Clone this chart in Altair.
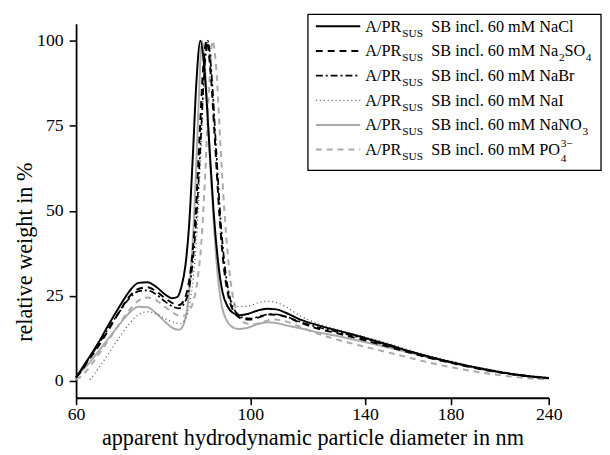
import altair as alt
import pandas as pd

FONT = "Liberation Serif"

# ---------------- data ----------------
x_nacl = [60, 61, 62, 64, 66, 68, 70, 72, 74, 76, 78, 79.5, 80.7, 81.7, 82.7, 83.6, 84.5, 85.4, 86.4, 87.4,
          88.5, 89.8, 91, 92.2, 93.5, 95, 97, 99.5, 102, 105, 108, 111, 115, 120, 130, 140, 150, 160, 170, 180,
          190, 200, 210, 220, 230, 240]
y_nacl = [1, 3.5, 6, 11, 16.5, 21.5, 26, 28.8, 29, 27.5, 25.3, 24.3, 24.6, 27.5, 34, 46, 66, 88, 100, 92,
          73, 50, 35, 26, 22, 20, 19.3, 19.7, 20.6, 21.2, 21, 20, 18.3, 16.8, 14.6, 12.6, 10.6, 8.6, 6.9, 5.5,
          4.3, 3.3, 2.4, 1.7, 1.2, 0.8]

x_na2so4 = [60, 61, 62, 64, 66, 68, 70, 72, 74, 76, 78, 80, 81.2, 82.3, 83.3, 84.3, 85.3, 86.2, 87.1, 88,
            89, 90.2, 91.4, 92.6, 94, 95.5, 97.5, 100, 103, 106, 109, 112, 115, 120, 130, 140, 150, 160, 170, 180,
            190, 200, 210, 220, 230, 240]
y_na2so4 = [1, 3, 5.5, 10, 15, 20, 24.5, 27, 27.5, 26.2, 24.2, 22.6, 22.3, 23.6, 27.5, 36, 51, 72, 92, 100,
            91, 70, 48, 33, 24, 20, 18.3, 18, 18.8, 19.5, 19.3, 18.5, 17.4, 15.8, 13.8, 11.9, 10, 8.2, 6.6, 5.3,
            4.1, 3.1, 2.3, 1.6, 1.1, 0.7]

x_nabr = [60, 61, 62, 64, 66, 68, 70, 72, 74, 76, 78, 80, 81.2, 82.3, 83.4, 84.4, 85.4, 86.4, 87.4, 88.3,
          89.3, 90.5, 91.7, 92.9, 94.2, 95.8, 97.8, 100, 103, 106, 109, 112, 115, 120, 130, 140, 150, 160, 170, 180,
          190, 200, 210, 220, 230, 240]
y_nabr = [1, 3.2, 5.8, 10.5, 15.5, 20, 24, 26.3, 26.6, 25.3, 23.2, 21.6, 21.3, 22.6, 26, 34, 48, 69, 91, 100,
          90, 68, 47, 33, 24.5, 20.3, 18.6, 18.3, 19, 19.6, 19.4, 18.6, 17.6, 16.2, 14.2, 12.3, 10.3, 8.5, 6.8, 5.5,
          4.3, 3.2, 2.4, 1.7, 1.1, 0.8]

x_nai = [62.5, 64, 66, 68, 70, 72, 74, 76, 78, 80, 81.5, 82.6, 83.6, 84.6, 85.6, 86.5, 87.3, 88.1, 89.1, 90.2,
         91.3, 92.4, 93.6, 95, 97, 99.5, 102, 105, 108, 111, 115, 120, 130, 140, 150, 160, 170, 180, 190, 200,
         210, 220, 230, 240]
y_nai = [0.3, 3.5, 8, 12.5, 16.5, 19.4, 20.3, 19.6, 18.2, 17.1, 16.8, 18, 22, 30, 45, 67, 89, 100, 91, 71,
         51, 36, 27, 23, 21.8, 22, 22.8, 23.4, 23, 21.8, 19.5, 17.4, 14.9, 12.9, 10.9, 8.9, 7.2, 5.8, 4.5, 3.5,
         2.6, 1.9, 1.4, 1.0]

x_nano3 = [60, 61, 62, 64, 66, 68, 70, 72, 74, 76, 78, 80, 81.2, 82.2, 83.1, 84, 85, 85.9, 86.8, 87.8,
           88.9, 90, 91, 92, 93.2, 94.6, 96.5, 99, 102, 105, 108, 111, 115, 120, 130, 140, 150, 160, 170, 180,
           190, 200, 210, 220, 230, 240]
y_nano3 = [1, 2.8, 4.6, 8.5, 12.5, 16.3, 19.8, 21.8, 21.6, 19.7, 17.2, 15.3, 15, 16.5, 21, 32, 53, 80, 100, 88,
           64, 44, 30, 22, 18, 16, 15.2, 15.5, 16.6, 17.2, 17, 16.3, 15.6, 14.6, 13, 11.4, 9.8, 8.2, 6.7, 5.3,
           4.1, 3.1, 2.3, 1.6, 1.1, 0.7]

x_po4 = [60, 61, 62, 64, 66, 68, 70, 72, 74, 76, 78, 80, 81.5, 82.6, 83.6, 84.6, 85.6, 86.6, 87.6, 88.6,
         89.5, 90.5, 91.6, 92.7, 93.8, 95, 96.5, 98.5, 101, 104, 107, 110, 114, 120, 130, 140, 150, 160, 170, 180,
         190, 200, 210, 220, 230, 240]
y_po4 = [0.3, 1.5, 3.2, 7.5, 12, 16.5, 20.5, 23.5, 24.5, 23.6, 21.6, 19.8, 19, 19.3, 20.6, 23.2, 29, 40, 60, 85,
         100, 92, 70, 50, 35, 25, 19.5, 17, 16.6, 17.4, 18, 17.7, 16.5, 14.4, 11.9, 10, 8.3, 6.7, 5.2, 4,
         3, 2.2, 1.5, 1, 0.6, 0.4]

x_ticks = [60, 100, 140, 180, 240]
y_ticks = [0, 25, 50, 75, 100]
x_title = "apparent hydrodynamic particle diameter in nm"
y_title = "relative weight in %"

# legend suffix pieces: (text, kind) with kind main/sub/sup
legend_suffix = [
    [("SB incl. 60 mM NaCl", "main")],
    [("SB incl. 60 mM Na", "main"), ("2", "sub"), ("SO", "main"), ("4", "sub")],
    [("SB incl. 60 mM NaBr", "main")],
    [("SB incl. 60 mM NaI", "main")],
    [("SB incl. 60 mM NaNO", "main"), ("3", "sub")],
    [("SB incl. 60 mM PO", "main"), ("4", "sub"), ("3\u2212", "sup")],
]

# styles: color, width, dash
styles = [
    ("black", 2.0, None),
    ("black", 2.0, [7, 5]),
    ("black", 1.7, [7, 3, 2, 3]),
    ("#555555", 1.3, [1, 3]),
    ("#aaaaaa", 2.0, None),
    ("#aaaaaa", 2.0, [6, 5]),
]
series = [(x_nacl, y_nacl), (x_na2so4, y_na2so4), (x_nabr, y_nabr),
          (x_nai, y_nai), (x_nano3, y_nano3), (x_po4, y_po4)]

# ---------------- scales / axes ----------------
xscale = alt.Scale(type="log", domain=[60, 240], nice=False)
yscale = alt.Scale(domain=[-5, 105], nice=False, zero=False)

xaxis = alt.Axis(values=x_ticks, format="d", title=x_title, grid=False, tickSize=7, tickWidth=1.6,
                 tickColor="black", domainColor="black", domainWidth=1.8, labelFont=FONT, labelFontSize=18,
                 labelColor="black", labelPadding=1, labelFlush=False, labelOverlap=False,
                 titleFont=FONT, titleFontSize=22.5, titleFontWeight="normal", titleColor="black",
                 titleY=47, titleBaseline="alphabetic")
yaxis = alt.Axis(values=y_ticks, title=y_title, grid=False, tickSize=7, tickWidth=1.6,
                 tickColor="black", domainColor="black", domainWidth=1.8, labelFont=FONT, labelFontSize=18,
                 labelColor="black", labelPadding=6, labelOverlap=False,
                 titleFont=FONT, titleFontSize=22.5, titleFontWeight="normal", titleColor="black",
                 titleX=-52, titleY=231, titleBaseline="middle")

layers = []
order = [5, 4, 3, 2, 1, 0]
for i in order:
    xs, ys = series[i]
    color, width, dash = styles[i]
    df = pd.DataFrame({"d": xs, "w": ys})
    kw = dict(color=color, strokeWidth=width, interpolate="monotone")
    if dash:
        kw["strokeDash"] = dash
    layers.append(alt.Chart(df).mark_line(**kw).encode(
        x=alt.X("d:Q", scale=xscale, axis=xaxis),
        y=alt.Y("w:Q", scale=yscale, axis=yaxis)))

# ---------------- custom legend ----------------
one = alt.Data(values=[{"k": 1}])
layers.append(alt.Chart(one).mark_rect(fill="white", stroke="black", strokeWidth=1.3).encode(
    x=alt.value(235), x2=alt.value(532), y=alt.value(-9.5), y2=alt.value(148.5)))

FS = 16.5
FS_SMALL = 11.5
# Times metrics (per 1000 em) for width estimation
W = {"S": 556, "B": 667, " ": 250, "i": 278, "n": 500, "c": 444, "l": 278, ".": 250, "6": 500, "0": 500,
     "m": 778, "M": 889, "N": 722, "a": 444, "C": 667, "O": 722, "P": 556, "r": 333, "I": 333, "2": 500,
     "3": 500, "4": 500, "\u2212": 564}


def tw(s, fs):
    return sum(W.get(ch, 500) for ch in s) * fs / 1000.0


def txt(text, x, y, fs):
    return alt.Chart(one).mark_text(text=text, align="left", baseline="alphabetic", font=FONT,
                                    fontSize=fs, color="black").encode(x=alt.value(x), y=alt.value(y))


for i in range(6):
    ly = 2.5 + 25 * i
    color, width, dash = styles[i]
    kw = dict(color=color, strokeWidth=width)
    if dash:
        kw["strokeDash"] = dash
    layers.append(alt.Chart(one).mark_rule(**kw).encode(
        x=alt.value(243), x2=alt.value(288), y=alt.value(ly)))
    layers.append(txt("A/PR", 293, ly + 5.5, FS))
    layers.append(txt("SUS", 330.5, ly + 10.5, FS_SMALL))
    cx = 360
    for piece, kind in legend_suffix[i]:
        if kind == "main":
            layers.append(txt(piece, cx, ly + 5.5, FS))
            cx += tw(piece, FS)
        elif kind == "sub":
            layers.append(txt(piece, cx + 0.5, ly + (13 if i == 5 else 10.5), FS_SMALL))
            if i != 5:
                cx += tw(piece, FS_SMALL) + 0.5
        else:
            layers.append(txt(piece, cx + 0.5, ly - 3, FS_SMALL))

chart = alt.layer(*layers).properties(
    width=479, height=379,
    autosize=alt.AutoSizeParams(type="none"),
    padding={"left": 69, "top": 13, "right": 54, "bottom": 55},
).configure_view(stroke=None)

chart.save("out.html", embed_options={"renderer": "svg", "actions": False})
